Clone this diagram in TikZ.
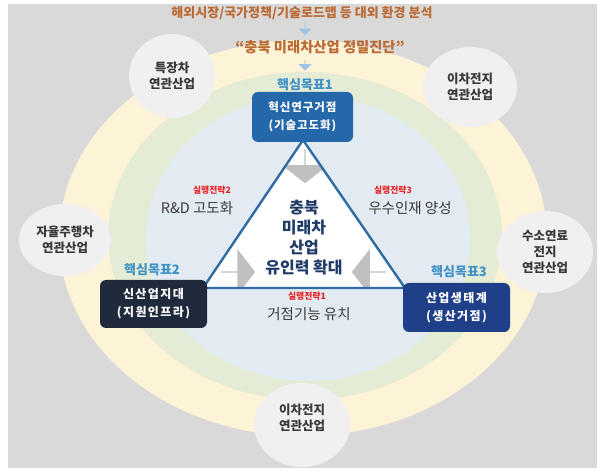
\documentclass[tikz,border=0pt]{standalone}
\usepackage{fontspec}
\newfontfamily\kr{Noto Sans CJK KR}
\newfontfamily\krsp[LetterSpace=8]{Noto Sans CJK KR}
\newfontfamily\krspw[LetterSpace=12]{Noto Sans CJK KR}
\usetikzlibrary{shapes.arrows,shapes.geometric}
\definecolor{bgc}{HTML}{D9D9D9}
\definecolor{ringY}{HTML}{FCEDBF}
\definecolor{ringYi}{HTML}{FDF3D6}
\definecolor{ringG}{HTML}{E5ECD6}
\definecolor{ringB}{HTML}{CEDEE9}
\definecolor{ringBi}{HTML}{E2EBF1}
\definecolor{bubble}{HTML}{F0F0F0}
\definecolor{brownT}{HTML}{BC6A33}
\definecolor{goalT}{HTML}{3E92C8}
\definecolor{redT}{HTML}{E8262A}
\definecolor{darkT}{HTML}{3A3A3A}
\definecolor{navyT}{HTML}{1F3A66}
\definecolor{boxA}{HTML}{2468A9}
\definecolor{boxB}{HTML}{1F2B3C}
\definecolor{boxC}{HTML}{1F3F88}
\definecolor{triline}{HTML}{2F6CA3}
\definecolor{arrowB}{HTML}{9DC3E6}
\definecolor{greyA}{HTML}{B5B5B5}
\pgfdeclareradialshading{blueglow}{\pgfpoint{0bp}{0bp}}{color(0bp)=(ringBi); color(25bp)=(ringBi); color(50bp)=(ringB)}
\pgfdeclareradialshading{yellowglow}{\pgfpoint{0bp}{0bp}}{color(0bp)=(ringYi); color(40bp)=(ringYi); color(50bp)=(ringY)}
\tikzset{
  every node/.style={font=\kr, inner sep=0pt, align=center},
  bubblenode/.style={ellipse, fill=bubble},
  bubbletext/.style={font=\kr\bfseries\fontsize{12.5}{16}\selectfont, text=darkT},
  goalbox/.style={rounded corners=6pt, minimum width=104pt, minimum height=49pt, text=white,
                  font=\krsp\bfseries\fontsize{11.5}{18}\selectfont},
  goalboxw/.style={goalbox, font=\krspw\bfseries\fontsize{12}{18}\selectfont},
  goallabel/.style={font=\kr\bfseries\fontsize{13}{15}\selectfont, text=goalT},
  strat/.style={font=\kr\bfseries\fontsize{8.8}{10}\selectfont, text=redT},
  stratname/.style={font=\kr\fontsize{14.5}{17}\selectfont, text=darkT},
  greyarrow/.style={single arrow, fill=greyA, opacity=0.85, minimum height=34pt,
                    minimum width=46pt, single arrow head extend=8pt, single arrow head indent=0pt,
                    single arrow tip angle=104},
  bluearrow/.style={single arrow, fill=arrowB, minimum height=14pt, minimum width=13pt,
                    single arrow head extend=2.5pt, shape border rotate=270},
  triedge/.style={draw=triline, line width=2.4pt},
}
\begin{document}
\begin{tikzpicture}[x=1pt,y=-1pt]
\useasboundingbox (0,0) rectangle (600,470);
\fill[white] (0,0) rectangle (600,470);
\fill[bgc] (8,4) rectangle (597,468);
% rings
\shade[shading=yellowglow] (303,238) ellipse [x radius=244, y radius=198];
\fill[ringG] (305,236) ellipse [x radius=197, y radius=164];
\shade[shading=blueglow] (308,238) ellipse [x radius=162, y radius=143];
% bubbles
\node[bubblenode, minimum width=86pt, minimum height=84pt] (bTL) at (172,76) {};
\node[bubbletext] at (bTL) {특장차\\연관산업};
\node[bubblenode, minimum width=94pt, minimum height=80pt] (bTR) at (470,87) {};
\node[bubbletext] at (bTR) {이차전지\\연관산업};
\node[bubblenode, minimum width=92pt, minimum height=72pt] (bL) at (65,240) {};
\node[bubbletext] at (bL) {자율주행차\\연관산업};
\node[bubblenode, minimum width=96pt, minimum height=82pt] (bR) at (545,252) {};
\node[bubbletext] at (bR) {수소연료\\전지\\연관산업};
\node[bubblenode, minimum width=96pt, minimum height=84pt] (bB) at (302,425) {};
\node[bubbletext] at (302,418) {이차전지\\연관산업};
% top texts
\node[font=\kr\bfseries\fontsize{13}{15}\selectfont, text=brownT] (top) at (302,13) {해외시장/국가정책/기술로드맵 등 대외 환경 분석};
\node[bluearrow] (a1) at (305,28) {};
\node[font=\kr\bfseries\fontsize{14.3}{16}\selectfont, text=brownT] (diag) at (320,47) {“충북 미래차산업 정밀진단”};
\node[bluearrow, minimum height=11pt] (a2) at (305,65) {};
% triangle
\coordinate (tA) at (303,140);
\coordinate (tL) at (203,288);
\coordinate (tR) at (405,288);
\fill[white] (tA) -- (tL) -- (tR) -- cycle;
\begin{scope}
\clip (tA) -- (tL) -- (tR) -- cycle;
\node[greyarrow, shape border rotate=270] (g1) at (305,166) {};
\node[greyarrow, shape border rotate=30] (g2) at (238,272) {};
\node[greyarrow, shape border rotate=150] (g3) at (369,272) {};
\end{scope}
\draw[triedge] (tA) -- (tL) -- (tR) -- cycle;
% center text
\node[font=\kr\bfseries\fontsize{16}{20}\selectfont, text=navyT] (ctr) at (304,238) {충북\\미래차\\산업\\유인력 확대};
% goal boxes
\node[goalbox, fill=boxA, minimum width=101pt, minimum height=50pt] (g1box) at (302.5,117) {혁신연구거점\\(기술고도화)};
\node[goallabel] at (305,85) {핵심목표1};
\node[goalboxw, fill=boxB, minimum width=107pt, minimum height=48pt] (g2box) at (153.5,304) {신산업지대\\(지원인프라)};
\node[goallabel] at (152,270) {핵심목표2};
\node[goalboxw, fill=boxC, minimum width=107pt, minimum height=49pt] (g3box) at (456.5,307.5) {산업생태계\\(생산거점)};
\node[goallabel] at (459,272) {핵심목표3};
% strategies
\node[strat] at (212,190) {실행전략2};
\node[stratname] at (197,208) {R\&D 고도화};
\node[strat] at (393,190) {실행전략3};
\node[stratname] at (410,208) {우수인재 양성};
\node[strat] at (307,296) {실행전략1};
\node[stratname] at (309,314) {거점기능 유치};
\end{tikzpicture}
\end{document}
